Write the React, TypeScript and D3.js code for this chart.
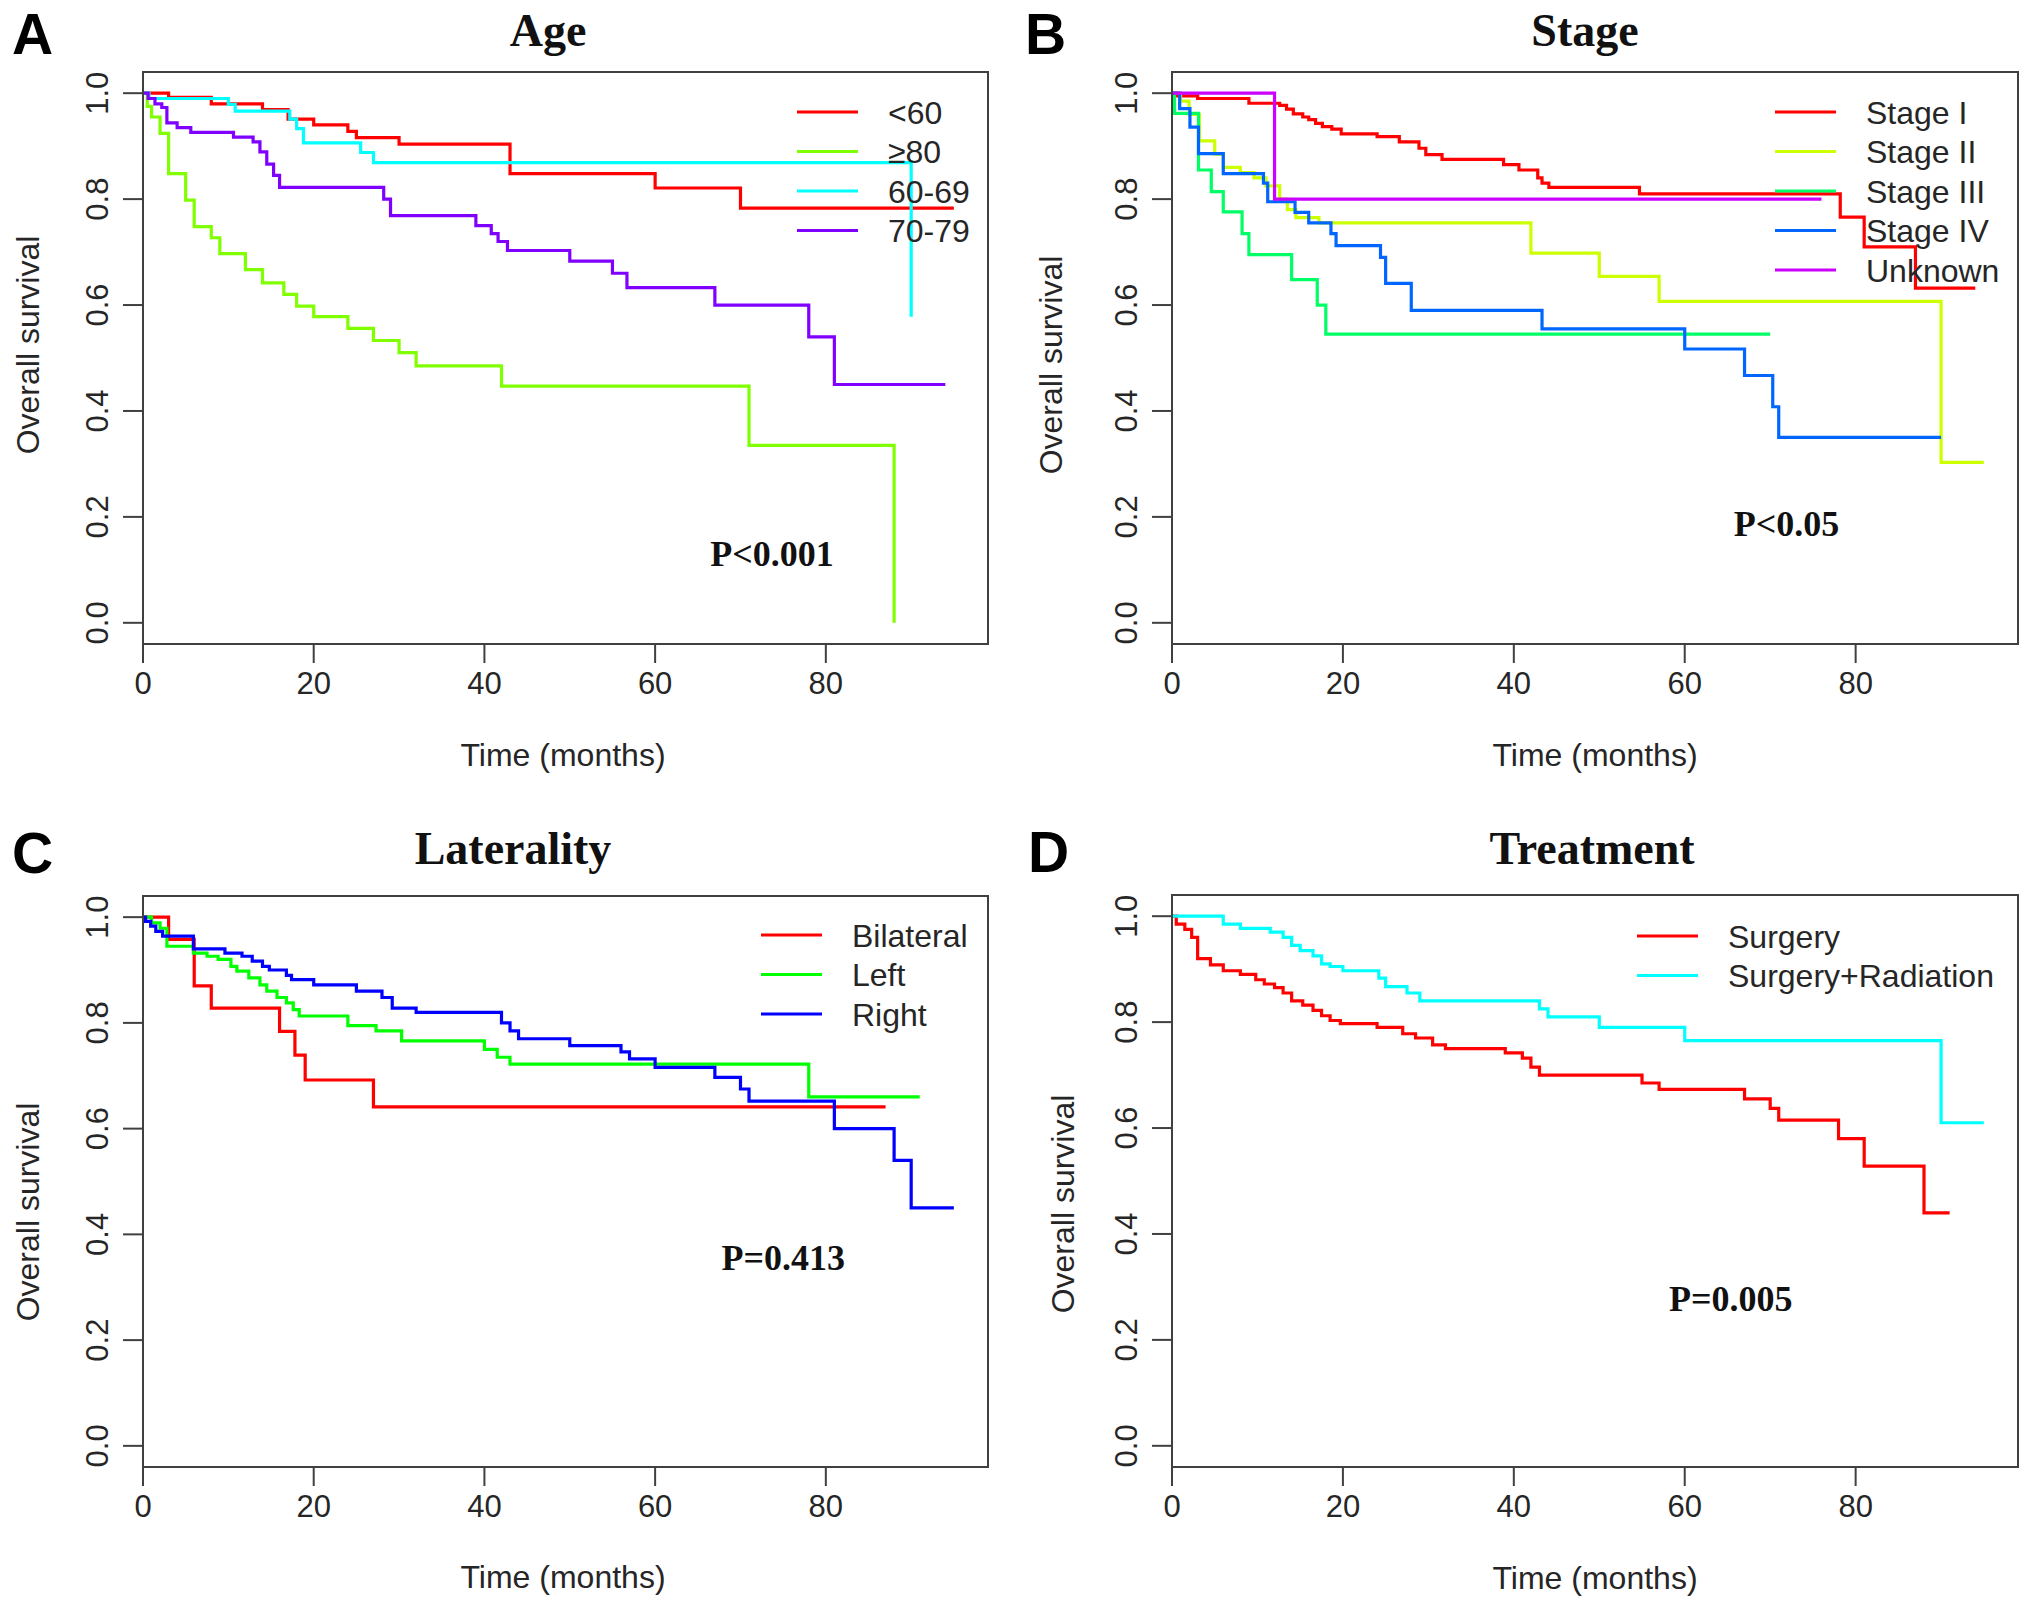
import React, { useEffect, useRef } from "react";
import * as d3 from "d3";

type Pt = [number, number];
interface Series {
  name: string;
  color: string;
  pts: Pt[]; // [time of step, survival after step]
  end: number; // last follow-up time
}

// ---- Panel A: Age ----
const ageLt60: Pt[] = [[0, 1], [3, 0.992], [8, 0.98], [14, 0.969], [17, 0.951], [20, 0.94], [24, 0.928], [25, 0.916], [30, 0.904], [43, 0.848], [60, 0.821], [70, 0.783]];
const ageGe80: Pt[] = [[0, 1], [0.5, 0.975], [1, 0.955], [2, 0.924], [3, 0.848], [5, 0.798], [6, 0.748], [8, 0.727], [9, 0.697], [12, 0.667], [14, 0.642], [16.5, 0.62], [18, 0.598], [20, 0.578], [24, 0.556], [27, 0.533], [30, 0.51], [32, 0.485], [42, 0.447], [71, 0.335], [88, 0]];
const age6069: Pt[] = [[0, 1], [0.7, 0.99], [10, 0.979], [10.8, 0.966], [17.2, 0.951], [18, 0.933], [18.8, 0.906], [25.5, 0.888], [27, 0.869], [90, 0.578]];
const age7079: Pt[] = [[0, 1], [0.6, 0.99], [1.4, 0.98], [2.2, 0.973], [2.8, 0.944], [4, 0.935], [5.6, 0.926], [10.6, 0.917], [12.9, 0.908], [13.7, 0.889], [14.5, 0.866], [15.3, 0.845], [16, 0.822], [28.2, 0.8], [29, 0.769], [39, 0.75], [40.8, 0.735], [41.6, 0.72], [42.7, 0.703], [50, 0.683], [55, 0.66], [56.7, 0.633], [67, 0.6], [78, 0.54], [81, 0.45]];

// ---- Panel B: Stage ----
const stage1: Pt[] = [[0, 1], [0.5, 0.995], [3, 0.99], [9, 0.981], [12.6, 0.977], [13.4, 0.97], [14.2, 0.961], [15.3, 0.955], [16, 0.95], [16.8, 0.943], [17.6, 0.937], [18.7, 0.932], [19.8, 0.923], [24, 0.918], [26.6, 0.908], [28.9, 0.896], [29.7, 0.884], [31.6, 0.875], [38.8, 0.865], [40.6, 0.855], [42.8, 0.84], [43.3, 0.83], [44.1, 0.822], [54.7, 0.81], [78.2, 0.766], [81, 0.71], [87, 0.632]];
const stage2: Pt[] = [[0, 1], [1, 0.985], [2, 0.96], [3.2, 0.91], [5, 0.885], [6, 0.86], [8, 0.85], [9.6, 0.84], [11, 0.825], [12.6, 0.8], [13.5, 0.78], [14.5, 0.765], [17.2, 0.755], [42, 0.698], [50, 0.654], [57, 0.607], [90, 0.303]];
const stage3: Pt[] = [[0, 1], [0.3, 0.962], [3.1, 0.855], [4.6, 0.814], [6, 0.776], [8.2, 0.735], [9, 0.695], [14, 0.648], [17, 0.6], [18, 0.545]];
const stage4: Pt[] = [[0, 1], [0.9, 0.971], [2.1, 0.936], [3.1, 0.886], [6, 0.848], [10.7, 0.83], [11.2, 0.795], [14.4, 0.775], [16, 0.755], [18.6, 0.735], [19.2, 0.712], [24.4, 0.69], [25, 0.641], [28, 0.59], [43.3, 0.555], [60, 0.517], [67, 0.467], [70.3, 0.408], [71, 0.35]];
const stageUnknown: Pt[] = [[0, 1], [12, 0.8]];

// ---- Panel C: Laterality ----
const latBilateral: Pt[] = [[0, 1], [3, 0.958], [6, 0.87], [8, 0.828], [16, 0.784], [17.8, 0.739], [19, 0.692], [27, 0.641]];
const latLeft: Pt[] = [[0, 1], [1, 0.989], [2, 0.979], [2.8, 0.945], [5.9, 0.932], [7.5, 0.926], [8.8, 0.92], [10.3, 0.907], [11, 0.898], [12.4, 0.885], [13.7, 0.872], [14.5, 0.86], [15.7, 0.848], [16.8, 0.838], [17.6, 0.825], [18.3, 0.813], [24, 0.795], [27.3, 0.785], [30.3, 0.766], [40, 0.75], [41.5, 0.735], [43, 0.722], [78, 0.66]];
const latRight: Pt[] = [[0, 1], [0.3, 0.992], [0.9, 0.983], [1.5, 0.973], [2.3, 0.964], [5.9, 0.94], [9.6, 0.932], [11.6, 0.926], [12.8, 0.917], [14, 0.907], [14.8, 0.9], [16.8, 0.89], [17.4, 0.882], [20, 0.872], [25, 0.86], [28, 0.848], [29.2, 0.828], [32, 0.82], [42, 0.8], [43, 0.785], [44, 0.77], [50, 0.757], [56, 0.745], [57, 0.732], [60, 0.716], [67, 0.697], [70, 0.675], [71, 0.652], [81, 0.6], [88, 0.54], [90, 0.45]];

// ---- Panel D: Treatment ----
const trtSurgery: Pt[] = [[0, 1], [0.5, 0.985], [1.5, 0.975], [2.3, 0.96], [3, 0.92], [4.5, 0.908], [6, 0.897], [8, 0.89], [9.8, 0.88], [10.8, 0.872], [12, 0.865], [13, 0.855], [14, 0.84], [15.3, 0.832], [16.5, 0.822], [17.5, 0.812], [18.5, 0.803], [19.7, 0.797], [24, 0.79], [27, 0.778], [28.5, 0.77], [30.5, 0.757], [32, 0.75], [39, 0.742], [41, 0.732], [42, 0.715], [43, 0.7], [55, 0.685], [57, 0.673], [67, 0.655], [70, 0.637], [71, 0.615], [78, 0.58], [81, 0.528], [88, 0.44]];
const trtSurgRad: Pt[] = [[0, 1], [6, 0.985], [8, 0.977], [11.5, 0.97], [13, 0.96], [14, 0.945], [15, 0.935], [16.5, 0.925], [17.5, 0.91], [18.5, 0.905], [20, 0.897], [24.2, 0.883], [25, 0.867], [27.5, 0.855], [29, 0.84], [43, 0.825], [44, 0.81], [50, 0.79], [60, 0.765], [90, 0.61]];

const xTicks = [0, 20, 40, 60, 80];
const yTicks = [0, 0.2, 0.4, 0.6, 0.8, 1.0];

const ageSeries: Series[] = [
  { name: "<60", color: "#FF0000", pts: ageLt60, end: 95 },
  { name: "≥80", color: "#80FF00", pts: ageGe80, end: 88 },
  { name: "60-69", color: "#00FFFF", pts: age6069, end: 90 },
  { name: "70-79", color: "#8000FF", pts: age7079, end: 94 },
];
const stageSeries: Series[] = [
  { name: "Stage I", color: "#FF0000", pts: stage1, end: 94 },
  { name: "Stage II", color: "#CCFF00", pts: stage2, end: 95 },
  { name: "Stage III", color: "#00FF66", pts: stage3, end: 70 },
  { name: "Stage IV", color: "#0066FF", pts: stage4, end: 90 },
  { name: "Unknown", color: "#CC00FF", pts: stageUnknown, end: 76 },
];
const latSeries: Series[] = [
  { name: "Bilateral", color: "#FF0000", pts: latBilateral, end: 87 },
  { name: "Left", color: "#00FF00", pts: latLeft, end: 91 },
  { name: "Right", color: "#0000FF", pts: latRight, end: 95 },
];
const trtSeries: Series[] = [
  { name: "Surgery", color: "#FF0000", pts: trtSurgery, end: 91 },
  { name: "Surgery+Radiation", color: "#00FFFF", pts: trtSurgRad, end: 95 },
];

const panels = [
  { letter: "A", title: "Age", left: 143, top: 72, width: 845, height: 572, titleX: 548, titleY: 46, letterX: 12, letterY: 54, ylabX: 39, ylabY: 345, xlabX: 563, xlabY: 766, legX: 797, legY: 112, p: "P<0.001", pX: 73.7, pY: 0.108, series: ageSeries },
  { letter: "B", title: "Stage", left: 1172, top: 72, width: 846, height: 572, titleX: 1585, titleY: 46, letterX: 1025, letterY: 54, ylabX: 1062, ylabY: 365, xlabX: 1595, xlabY: 766, legX: 1775, legY: 112, p: "P<0.05", pX: 71.9, pY: 0.164, series: stageSeries },
  { letter: "C", title: "Laterality", left: 143, top: 896, width: 845, height: 571, titleX: 513, titleY: 864, letterX: 12, letterY: 873, ylabX: 39, ylabY: 1212, xlabX: 563, xlabY: 1588, legX: 761, legY: 935, p: "P=0.413", pX: 75, pY: 0.332, series: latSeries },
  { letter: "D", title: "Treatment", left: 1172, top: 895, width: 846, height: 572, titleX: 1592, titleY: 864, letterX: 1028, letterY: 872, ylabX: 1074, ylabY: 1204, xlabX: 1595, xlabY: 1589, legX: 1637, legY: 936, p: "P=0.005", pX: 65.4, pY: 0.255, series: trtSeries },
];

const SANS = "'Liberation Sans', Arial, sans-serif";
const SERIF = "'Liberation Serif', 'Times New Roman', serif";
const INK = "#262626";
const FRAME = "#404040";

export default function App() {
  const svgRef = useRef<SVGSVGElement>(null);

  useEffect(() => {
    if (!svgRef.current) return;
    const svg = d3.select(svgRef.current);
    svg.selectAll("*").remove();

    panels.forEach((p) => {
      const x = d3.scaleLinear().domain([0, 99]).range([p.left, p.left + p.width]);
      const y = d3.scaleLinear().domain([-0.04, 1.04]).range([p.top + p.height, p.top]);
      const g = svg.append("g");

      // curves
      const line = d3
        .line<Pt>()
        .x((d) => x(d[0]))
        .y((d) => y(d[1]))
        .curve(d3.curveStepAfter);
      p.series.forEach((s) => {
        const last = s.pts[s.pts.length - 1];
        const pts: Pt[] = [...s.pts, [s.end, last[1]]];
        g.append("path")
          .attr("d", line(pts))
          .attr("fill", "none")
          .attr("stroke", s.color)
          .attr("stroke-width", 3.2);
      });

      // frame
      g.append("rect")
        .attr("x", p.left)
        .attr("y", p.top)
        .attr("width", p.width)
        .attr("height", p.height)
        .attr("fill", "none")
        .attr("stroke", FRAME)
        .attr("stroke-width", 2);

      // x axis
      const bottom = p.top + p.height;
      xTicks.forEach((t) => {
        g.append("line")
          .attr("x1", x(t)).attr("x2", x(t))
          .attr("y1", bottom).attr("y2", bottom + 19)
          .attr("stroke", FRAME).attr("stroke-width", 2);
        g.append("text")
          .attr("x", x(t)).attr("y", bottom + 50)
          .attr("text-anchor", "middle")
          .attr("font-family", SANS).attr("font-size", 31).attr("fill", INK)
          .text(String(t));
      });

      // y axis
      yTicks.forEach((t) => {
        g.append("line")
          .attr("x1", p.left - 20).attr("x2", p.left)
          .attr("y1", y(t)).attr("y2", y(t))
          .attr("stroke", FRAME).attr("stroke-width", 2);
        const tx = p.left - 35;
        g.append("text")
          .attr("x", tx).attr("y", y(t))
          .attr("transform", `rotate(-90,${tx},${y(t)})`)
          .attr("text-anchor", "middle")
          .attr("font-family", SANS).attr("font-size", 31).attr("fill", INK)
          .text(t.toFixed(1));
      });

      // axis titles
      g.append("text")
        .attr("x", p.xlabX).attr("y", p.xlabY)
        .attr("text-anchor", "middle")
        .attr("font-family", SANS).attr("font-size", 32).attr("fill", INK)
        .text("Time (months)");
      g.append("text")
        .attr("x", p.ylabX).attr("y", p.ylabY)
        .attr("transform", `rotate(-90,${p.ylabX},${p.ylabY})`)
        .attr("text-anchor", "middle")
        .attr("font-family", SANS).attr("font-size", 32).attr("fill", INK)
        .text("Overall survival");

      // panel title + letter
      g.append("text")
        .attr("x", p.titleX).attr("y", p.titleY)
        .attr("text-anchor", "middle")
        .attr("font-family", SERIF).attr("font-weight", "bold").attr("font-size", 46).attr("fill", "#111")
        .text(p.title);
      g.append("text")
        .attr("x", p.letterX).attr("y", p.letterY)
        .attr("font-family", SANS).attr("font-weight", "bold").attr("font-size", 57).attr("fill", "#000")
        .text(p.letter);

      // p-value
      g.append("text")
        .attr("x", x(p.pX)).attr("y", y(p.pY))
        .attr("text-anchor", "middle")
        .attr("font-family", SERIF).attr("font-weight", "bold").attr("font-size", 36).attr("fill", "#111")
        .text(p.p);

      // legend
      p.series.forEach((s, i) => {
        const ly = p.legY + i * 39.5;
        g.append("line")
          .attr("x1", p.legX).attr("x2", p.legX + 61)
          .attr("y1", ly).attr("y2", ly)
          .attr("stroke", s.color).attr("stroke-width", 3.2);
        g.append("text")
          .attr("x", p.legX + 91).attr("y", ly + 11.5)
          .attr("font-family", SANS).attr("font-size", 32).attr("fill", INK)
          .text(s.name);
      });
    });
  }, []);

  return (
    <svg
      ref={svgRef}
      width={2031}
      height={1607}
      style={{ position: "absolute", left: 0, top: 0, background: "#fff", display: "block" }}
    />
  );
}
